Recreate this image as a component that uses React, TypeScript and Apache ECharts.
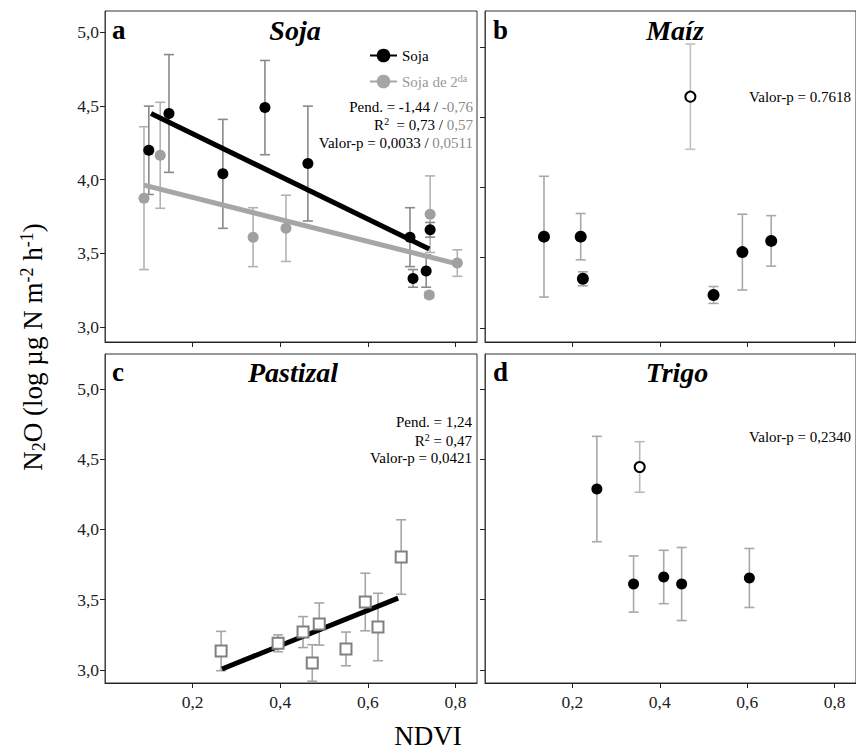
import React, { useEffect, useRef } from "react";
import * as echarts from "echarts";

// ---------- data ----------
// Panel a: Soja
const sojaX = [0.100, 0.146, 0.269, 0.365, 0.463, 0.696, 0.703, 0.733, 0.742];
const sojaY = [4.20, 4.45, 4.04, 4.49, 4.11, 3.61, 3.33, 3.38, 3.66];
const sojaErr = [0.30, 0.40, 0.37, 0.32, 0.39, 0.20, 0.06, 0.11, 0.05];
const soja2X = [0.089, 0.126, 0.338, 0.413, 0.742, 0.740, 0.804];
const soja2Y = [3.875, 4.166, 3.61, 3.67, 3.766, 3.217, 3.434];
const soja2Err = [0.485, 0.36, 0.20, 0.225, 0.26, 0.02, 0.09];
const sojaFitX = [0.105, 0.740];
const sojaFitY = [4.45, 3.53];
const soja2FitX = [0.089, 0.806];
const soja2FitY = [3.963, 3.427];

// Panel b: Maíz
const maizX = [0.135, 0.219, 0.224, 0.523, 0.589, 0.655];
const maizY = [3.65, 3.65, 3.35, 3.235, 3.54, 3.62];
const maizErr = [0.43, 0.165, 0.05, 0.06, 0.27, 0.18];
const maizOpenX = [0.470];
const maizOpenY = [4.647];
const maizOpenErr = [0.375];

// Panel c: Pastizal
const pastX = [0.265, 0.395, 0.452, 0.473, 0.489, 0.550, 0.594, 0.623, 0.676];
const pastY = [3.135, 3.19, 3.27, 3.05, 3.327, 3.15, 3.484, 3.306, 3.804];
const pastErr = [0.14, 0.06, 0.11, 0.13, 0.15, 0.12, 0.205, 0.24, 0.265];
const pastFitX = [0.267, 0.669];
const pastFitY = [3.007, 3.512];

// Panel d: Trigo
const trigoX = [0.256, 0.340, 0.409, 0.450, 0.605];
const trigoY = [4.288, 3.612, 3.662, 3.612, 3.655];
const trigoErr = [0.375, 0.20, 0.19, 0.26, 0.21];
const trigoOpenX = [0.354];
const trigoOpenY = [4.445];
const trigoOpenErr = [0.18];

// ticks
const xTicks = [0.2, 0.4, 0.6, 0.8];
const yTicks = [3.0, 3.5, 4.0, 4.5, 5.0];

// ---------- helpers ----------
const serif = "Liberation Serif";
const fmt = (v: number) => v.toFixed(1).replace(".", ",");
const pts = (xs: number[], ys: number[]) => xs.map((x, i) => [x, ys[i]]);
const errs = (xs: number[], ys: number[], es: number[]) =>
  xs.map((x, i) => [x, ys[i] - es[i], ys[i] + es[i]]);

const errSeries = (xi: number, data: number[][], color: string) => ({
  type: "custom",
  xAxisIndex: xi,
  yAxisIndex: xi,
  data,
  z: 1,
  silent: true,
  encode: { x: 0, y: [1, 2] },
  renderItem: (_params: any, api: any) => {
    const x = api.value(0);
    const lo = api.coord([x, api.value(1)]);
    const hi = api.coord([x, api.value(2)]);
    const hw = 5;
    const style = { stroke: color, lineWidth: 1.6, fill: null };
    return {
      type: "group",
      children: [
        { type: "line", shape: { x1: lo[0], y1: lo[1], x2: hi[0], y2: hi[1] }, style },
        { type: "line", shape: { x1: lo[0] - hw, y1: lo[1], x2: lo[0] + hw, y2: lo[1] }, style },
        { type: "line", shape: { x1: hi[0] - hw, y1: hi[1], x2: hi[0] + hw, y2: hi[1] }, style },
      ],
    };
  },
});

const grids = [
  { left: 105, top: 11, width: 372, height: 331 },
  { left: 485, top: 11, width: 372, height: 331 },
  { left: 105, top: 354, width: 372, height: 329 },
  { left: 485, top: 354, width: 372, height: 329 },
];
const yRanges = [
  [2.898, 5.146],
  [2.9, 5.257],
  [2.9075, 5.249],
  [2.9075, 5.249],
];

const xAxisOf = (i: number, labels: boolean) => ({
  type: "value",
  gridIndex: i,
  min: 0,
  max: 0.849,
  splitLine: { show: false },
  axisLine: { show: true, onZero: false, lineStyle: { color: "#222", width: 1 } },
  axisTick: { show: true, inside: false, length: 5, customValues: xTicks, lineStyle: { color: "#222" } },
  axisLabel: {
    show: labels,
    customValues: xTicks,
    formatter: fmt,
    margin: 10,
    fontFamily: serif,
    fontSize: 17.5,
    color: "#222",
  },
});
const yAxisOf = (i: number, labels: boolean) => ({
  type: "value",
  gridIndex: i,
  min: yRanges[i][0],
  max: yRanges[i][1],
  splitLine: { show: false },
  axisLine: { show: true, onZero: false, lineStyle: { color: "#444", width: 1 } },
  axisTick: { show: true, inside: false, length: 5, customValues: yTicks, lineStyle: { color: "#222" } },
  axisLabel: {
    show: labels,
    customValues: yTicks,
    formatter: fmt,
    margin: 6,
    fontFamily: serif,
    fontSize: 17.5,
    color: "#222",
  },
});

const txt = (x: number, y: number, text: string, extra: any = {}) => ({
  type: "text",
  x,
  y,
  silent: true,
  style: {
    text,
    fill: "#000",
    fontFamily: serif,
    fontSize: 15,
    align: "right",
    verticalAlign: "middle",
    ...extra,
  },
});

const statRich = {
  k: { fill: "#000", color: "#000", fontFamily: serif, fontSize: 15, lineHeight: 17 },
  g: { fill: "#8c8c8c", color: "#8c8c8c", fontFamily: serif, fontSize: 15, lineHeight: 17 },
  s: { fill: "#000", color: "#000", fontFamily: serif, fontSize: 10, verticalAlign: "top" },
};

export default function App() {
  const ref = useRef<HTMLDivElement>(null);
  useEffect(() => {
    if (!ref.current) return;
    const chart = echarts.init(ref.current, undefined, { renderer: "svg" });
    const option: any = {
      animation: false,
      backgroundColor: "#fff",
      grid: grids.map((g) => ({ ...g, show: true, borderColor: "#333", borderWidth: 1, containLabel: false })),
      xAxis: [xAxisOf(0, false), xAxisOf(1, false), xAxisOf(2, true), xAxisOf(3, true)],
      yAxis: [yAxisOf(0, true), yAxisOf(1, false), yAxisOf(2, true), yAxisOf(3, false)],
      legend: {
        left: 364,
        top: 42,
        orient: "vertical",
        itemWidth: 27,
        itemHeight: 17,
        itemGap: 9,
        selectedMode: false,
        data: [
          { name: "Soja" },
          { name: "Soja de 2da", textStyle: { color: "#999" } },
        ],
        formatter: (name: string) => (name === "Soja de 2da" ? "Soja de 2{sup|da}" : name),
        textStyle: {
          fontFamily: serif,
          fontSize: 15,
          color: "#000",
          lineHeight: 17,
          rich: { sup: { fontFamily: serif, fontSize: 10, verticalAlign: "top", color: "#999" } },
        },
      },
      series: [
        // panel a
        errSeries(0, errs(soja2X, soja2Y, soja2Err), "#b3b3b3"),
        errSeries(0, errs(sojaX, sojaY, sojaErr), "#8a8a8a"),
        {
          name: "Soja de 2da",
          type: "line",
          xAxisIndex: 0,
          yAxisIndex: 0,
          data: pts(soja2FitX, soja2FitY),
          showSymbol: false,
          symbol: "circle",
          z: 2,
          silent: true,
          lineStyle: { color: "#a6a6a6", width: 5 },
          itemStyle: { color: "#a6a6a6" },
        },
        {
          name: "Soja",
          type: "line",
          xAxisIndex: 0,
          yAxisIndex: 0,
          data: pts(sojaFitX, sojaFitY),
          showSymbol: false,
          symbol: "circle",
          z: 2,
          silent: true,
          lineStyle: { color: "#000", width: 5 },
          itemStyle: { color: "#000" },
        },
        {
          name: "Soja de 2da puntos",
          type: "scatter",
          xAxisIndex: 0,
          yAxisIndex: 0,
          data: pts(soja2X, soja2Y),
          symbolSize: 11,
          z: 3,
          itemStyle: { color: "#a0a0a0", opacity: 1 },
        },
        {
          name: "Soja puntos",
          type: "scatter",
          xAxisIndex: 0,
          yAxisIndex: 0,
          data: pts(sojaX, sojaY),
          symbolSize: 11,
          z: 4,
          itemStyle: { color: "#000", opacity: 1 },
        },
        // panel b
        errSeries(1, errs(maizX, maizY, maizErr), "#a8a8a8"),
        errSeries(1, errs(maizOpenX, maizOpenY, maizOpenErr), "#c0c0c0"),
        {
          name: "Maíz",
          type: "scatter",
          xAxisIndex: 1,
          yAxisIndex: 1,
          data: pts(maizX, maizY),
          symbolSize: 12,
          z: 3,
          itemStyle: { color: "#000", opacity: 1 },
        },
        {
          name: "Maíz atípico",
          type: "scatter",
          xAxisIndex: 1,
          yAxisIndex: 1,
          data: pts(maizOpenX, maizOpenY),
          symbolSize: 10,
          z: 3,
          itemStyle: { color: "#fff", borderColor: "#000", borderWidth: 2, opacity: 1 },
        },
        // panel c
        errSeries(2, errs(pastX, pastY, pastErr), "#a6a6a6"),
        {
          name: "Pastizal ajuste",
          type: "line",
          xAxisIndex: 2,
          yAxisIndex: 2,
          data: pts(pastFitX, pastFitY),
          showSymbol: false,
          z: 2,
          silent: true,
          lineStyle: { color: "#000", width: 5 },
        },
        {
          name: "Pastizal",
          type: "scatter",
          xAxisIndex: 2,
          yAxisIndex: 2,
          data: pts(pastX, pastY),
          symbol: "rect",
          symbolSize: 11,
          z: 3,
          itemStyle: { color: "#fff", borderColor: "#808080", borderWidth: 2, opacity: 1 },
        },
        // panel d
        errSeries(3, errs(trigoX, trigoY, trigoErr), "#a8a8a8"),
        errSeries(3, errs(trigoOpenX, trigoOpenY, trigoOpenErr), "#b8b8b8"),
        {
          name: "Trigo",
          type: "scatter",
          xAxisIndex: 3,
          yAxisIndex: 3,
          data: pts(trigoX, trigoY),
          symbolSize: 11,
          z: 3,
          itemStyle: { color: "#000", opacity: 1 },
        },
        {
          name: "Trigo atípico",
          type: "scatter",
          xAxisIndex: 3,
          yAxisIndex: 3,
          data: pts(trigoOpenX, trigoOpenY),
          symbolSize: 10,
          z: 3,
          itemStyle: { color: "#fff", borderColor: "#000", borderWidth: 2, opacity: 1 },
        },
      ],
      graphic: [
        // panel letters
        txt(112, 30, "a", { align: "left", fontSize: 27, fontWeight: "bold" }),
        txt(493, 30, "b", { align: "left", fontSize: 27, fontWeight: "bold" }),
        txt(112, 372, "c", { align: "left", fontSize: 27, fontWeight: "bold" }),
        txt(493, 372, "d", { align: "left", fontSize: 27, fontWeight: "bold" }),
        // panel titles
        txt(295, 30, "Soja", { align: "center", fontSize: 28, fontWeight: "bold", fontStyle: "italic" }),
        txt(675, 30, "Maíz", { align: "center", fontSize: 28, fontWeight: "bold", fontStyle: "italic" }),
        txt(293, 372, "Pastizal", { align: "center", fontSize: 28, fontWeight: "bold", fontStyle: "italic" }),
        txt(677, 372, "Trigo", { align: "center", fontSize: 28, fontWeight: "bold", fontStyle: "italic" }),
        // stats panel a
        txt(473, 107, "{k|Pend. = -1,44 / }{g|-0,76}", { rich: statRich }),
        txt(473, 125, "{k|R}{s|2}{k|  = 0,73 / }{g|0,57}", { rich: statRich }),
        txt(473, 143, "{k|Valor-p = 0,0033 / }{g|0,0511}", { rich: statRich }),
        // stats panel b
        txt(851, 97, "Valor-p = 0.7618"),
        // stats panel c
        txt(472, 422, "Pend. = 1,24"),
        txt(472, 441, "{k|R}{s|2}{k| = 0,47}", { rich: statRich }),
        txt(472, 458, "Valor-p = 0,0421"),
        // stats panel d
        txt(851, 437, "Valor-p = 0,2340"),
        // axis titles
        txt(428, 736, "NDVI", { align: "center", fontSize: 27 }),
        {
          type: "text",
          x: 33,
          y: 347,
          rotation: Math.PI / 2,
          silent: true,
          style: {
            text: "{n|N}{sb|2}{n|O (log µg N m}{sp|-2}{n| h}{sp|-1}{n|)}",
            fill: "#000",
            fontFamily: serif,
            fontSize: 27,
            align: "center",
            verticalAlign: "middle",
            rich: {
              n: { fill: "#000", fontFamily: serif, fontSize: 27, lineHeight: 30 },
              sb: { fill: "#000", fontFamily: serif, fontSize: 18, verticalAlign: "bottom" },
              sp: { fill: "#000", fontFamily: serif, fontSize: 18, verticalAlign: "top" },
            },
          },
        },
      ],
    };
    chart.setOption(option);
    return () => chart.dispose();
  }, []);
  return (
    <div
      ref={ref}
      style={{ position: "absolute", left: 0, top: 0, width: 856, height: 751, background: "#fff" }}
    />
  );
}
